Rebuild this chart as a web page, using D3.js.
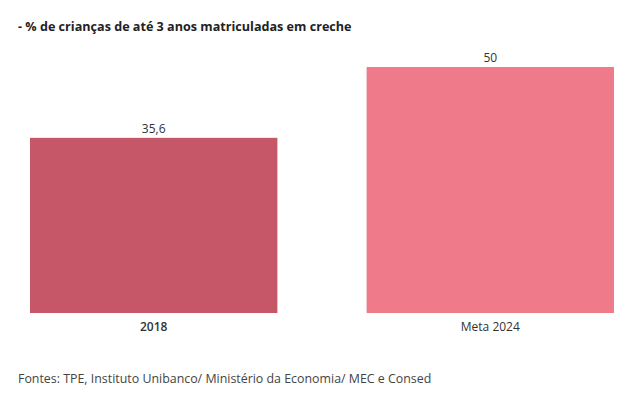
<!DOCTYPE html>
<html><head><meta charset="utf-8">
<script src="https://cdn.jsdelivr.net/npm/d3@7"></script>
<style>body{margin:0;background:#fff;} text{font-family:"Open Sans","Noto Sans",sans-serif;}</style>
</head><body>
<svg id="c" width="635" height="393"></svg>
<script>
const categories = ["2018", "Meta 2024"];
const values = [35.6, 50];
const valueLabels = ["35,6", "50"];
const colors = ["#c55769", "#ef7a8a"];
const title = "- % de crianças de até 3 anos matriculadas em creche";
const source = "Fontes: TPE, Instituto Unibanco/ Ministério da Economia/ MEC e Consed";

const svg = d3.select("#c");
const x = d3.scaleBand().domain(categories).range([30, 614]).paddingInner(0.265).paddingOuter(0);
const y = d3.scaleLinear().domain([0, 50]).range([313, 67]);

svg.append("text").attr("x", 18).attr("y", 31).attr("font-size", 12.6).attr("font-weight", 700)
  .attr("fill", "#222").text(title);

svg.selectAll("rect.bar").data(values).join("rect").attr("class","bar")
  .attr("x", (d,i)=>x(categories[i])).attr("width", x.bandwidth())
  .attr("y", d=>y(d)).attr("height", d=>y(0)-y(d)).attr("fill", (d,i)=>colors[i]);

svg.selectAll("text.val").data(values).join("text").attr("class","val")
  .attr("x", (d,i)=>x(categories[i])+x.bandwidth()/2).attr("y", d=>y(d)-5)
  .attr("text-anchor","middle").attr("font-size", 12).attr("fill","#333")
  .text((d,i)=>valueLabels[i]);

const ax = svg.append("g").attr("transform","translate(0,313)")
  .call(d3.axisBottom(x).tickSize(0).tickPadding(9));
ax.select(".domain").remove();
ax.selectAll("text").attr("font-size", 12).attr("fill","#333").style("font-family",'"Open Sans","Noto Sans",sans-serif')
  .attr("font-weight", (d,i)=> i===0 ? 600 : 400);

svg.append("text").attr("x", 18).attr("y", 383).attr("font-size", 12.4).attr("fill","#444").text(source);
</script>
</body></html>
